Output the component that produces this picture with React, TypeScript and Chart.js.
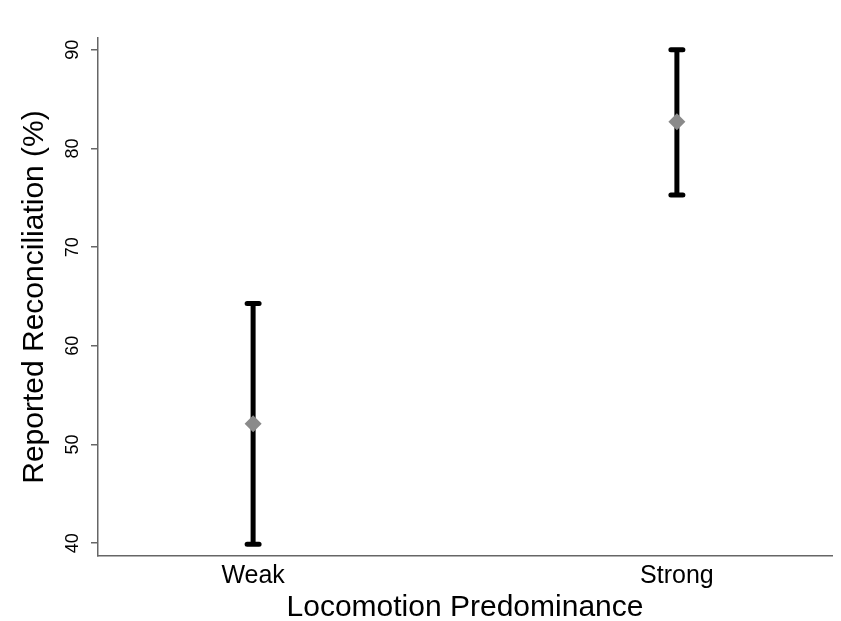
import React, { useEffect, useRef } from "react";
import { Chart, registerables } from "chart.js";

Chart.register(...registerables);

// Group labels and summary statistics per group
const categories = ["Weak", "Strong"];
const positions = [1, 2];
const means = [52.1, 82.7];
const lowerCI = [39.9, 75.3];
const upperCI = [64.3, 90.0];
const yTicks = [40, 50, 60, 70, 80, 90];

const FONT = "'Liberation Sans', Arial, Helvetica, sans-serif";

// Draws the confidence-interval whiskers behind the mean markers
const errorBarPlugin = {
  id: "errorBars",
  beforeDatasetsDraw(chart: any) {
    const { ctx, scales } = chart;
    const x = scales.x;
    const y = scales.y;
    ctx.save();
    ctx.strokeStyle = "#000";
    ctx.lineWidth = 5;
    ctx.lineCap = "round";
    positions.forEach((p, i) => {
      const px = x.getPixelForValue(p);
      const top = y.getPixelForValue(upperCI[i]);
      const bot = y.getPixelForValue(lowerCI[i]);
      ctx.beginPath();
      ctx.moveTo(px, top);
      ctx.lineTo(px, bot);
      ctx.moveTo(px - 6, top);
      ctx.lineTo(px + 6, top);
      ctx.moveTo(px - 6, bot);
      ctx.lineTo(px + 6, bot);
      ctx.stroke();
    });
    ctx.restore();
  },
};

// Vertical (rotated) y tick labels
const rotatedYLabels = {
  id: "rotatedYLabels",
  afterDraw(chart: any) {
    const { ctx, scales } = chart;
    const y = scales.y;
    ctx.save();
    ctx.fillStyle = "#000";
    ctx.font = `18px ${FONT}`;
    ctx.textAlign = "center";
    ctx.textBaseline = "middle";
    yTicks.forEach((t) => {
      const py = y.getPixelForValue(t);
      ctx.save();
      ctx.translate(73, py);
      ctx.rotate(-Math.PI / 2);
      ctx.fillText(String(t), 0, 0);
      ctx.restore();
    });
    ctx.restore();
  },
};

export default function App() {
  const ref = useRef<HTMLCanvasElement>(null);
  useEffect(() => {
    if (!ref.current) return;
    const chart = new Chart(ref.current, {
      type: "scatter",
      data: {
        datasets: [
          {
            data: positions.map((p, i) => ({ x: p, y: means[i] })),
            pointStyle: "rectRot",
            pointRadius: 8.5,
            pointBackgroundColor: "#8a8a8a",
            pointBorderColor: "#8a8a8a",
            pointBorderWidth: 0,
          },
        ],
      },
      options: {
        animation: false,
        responsive: false,
        layout: { padding: { top: 38, right: 9, left: 0, bottom: 0 } },
        plugins: { legend: { display: false }, tooltip: { enabled: false } },
        scales: {
          x: {
            type: "linear",
            min: 0.634,
            max: 2.366,
            afterBuildTicks: (s: any) => {
              s.ticks = positions.map((v) => ({ value: v }));
            },
            afterFit: (s: any) => {
              s.height = 65;
            },
            ticks: {
              callback: (v: any) => categories[positions.indexOf(Number(v))] ?? "",
              font: { family: FONT, size: 25 },
              color: "#000",
              padding: 5,
              maxRotation: 0,
              minRotation: 0,
            },
            grid: { display: false, drawTicks: false },
            border: { display: true, color: "#666", width: 1.5 },
            title: {
              display: true,
              text: "Locomotion Predominance",
              font: { family: FONT, size: 30 },
              color: "#000",
              padding: { top: 0, bottom: -5 },
            },
          },
          y: {
            min: 38.7,
            max: 91.2,
            afterBuildTicks: (s: any) => {
              s.ticks = yTicks.map((v) => ({ value: v }));
            },
            afterFit: (s: any) => {
              s.width = 98;
            },
            ticks: { display: false },
            grid: {
              drawOnChartArea: false,
              drawTicks: true,
              tickLength: 7,
              color: "#666",
              lineWidth: 1.5,
            },
            border: { display: true, color: "#666", width: 1.5 },
            title: {
              display: true,
              text: "Reported Reconciliation (%)",
              font: { family: FONT, size: 30 },
              color: "#000",
              padding: { top: 17, bottom: 0 },
            },
          },
        },
      },
      plugins: [errorBarPlugin, rotatedYLabels],
    });
    return () => chart.destroy();
  }, []);
  return (
    <div style={{ position: "fixed", left: 0, top: 0, width: 841, height: 621, background: "#fff" }}>
      <canvas ref={ref} width={841} height={621} />
    </div>
  );
}
